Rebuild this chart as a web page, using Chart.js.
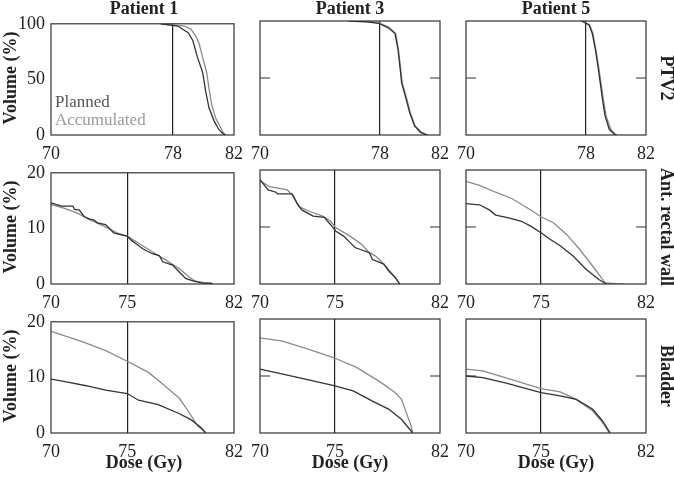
<!DOCTYPE html>
<html>
<head>
<meta charset="utf-8">
<script src="https://cdn.jsdelivr.net/npm/chart.js@4.4.1/dist/chart.umd.min.js"></script>
<style>
  body { margin: 0; background: #fff; }
  #page { position: relative; width: 674px; height: 481px; overflow: hidden; font-family: "Liberation Serif", "Times New Roman", serif; }
  canvas { position: absolute; }
  .lbl { position: absolute; font-weight: bold; font-size: 18px; line-height: 1; color: #222; white-space: nowrap; }
</style>
</head>
<body>
<div id="page"></div>
<script>
// ---- data (dose in Gy, volume in %) ----
const patients = ["Patient 1", "Patient 3", "Patient 5"];
const structures = ["PTV2", "Ant. rectal wall", "Bladder"];
const seriesNames = ["Planned", "Accumulated"];
const xTicks = [[70, 78, 82], [70, 75, 82], [70, 75, 82]];
const yTicks = [[0, 50, 100], [0, 10, 20], [0, 10, 20]];
const refDose = [78, 75, 75];

const ptvP1Planned = [[77.2,100],[78.3,98],[79.0,92],[79.3,85],[79.6,70],[79.95,56],[80.15,38.5],[80.37,24],[80.7,12.5],[81.0,5],[81.25,1.5],[81.4,0]];
const ptvP1Accum = [[77.2,100],[78.75,98],[79.18,95],[79.5,89],[79.72,82],[79.94,70],[80.21,56],[80.37,41],[80.54,27],[80.8,15],[81.12,6.7],[81.3,2],[81.45,0]];
const ptvP3Planned = [[75.9,100],[77.1,99.3],[77.9,98],[78.55,94],[79.0,89],[79.2,75],[79.33,60],[79.44,46],[79.75,31],[79.98,19.5],[80.3,8],[80.7,2.3],[81.15,0]];
const ptvP3Accum = [[76.2,100],[77.1,99.5],[77.95,98.3],[78.6,94.5],[79.05,89],[79.23,75],[79.36,60],[79.48,46],[79.8,31],[80.02,19.5],[80.35,8],[80.8,2],[81.2,0]];
const ptvP5Planned = [[77.7,100],[78.2,96.5],[78.42,89],[78.63,74.6],[78.8,60],[78.95,45.8],[79.1,31],[79.27,16.8],[79.55,5],[79.9,0.5],[80.0,0]];
const ptvP5Accum = [[77.75,100],[78.25,96.5],[78.46,89],[78.66,74.6],[78.84,60],[79.0,45.8],[79.16,31],[79.34,16.8],[79.65,5],[79.95,0.8],[80.1,0]];

const rectP1Planned = [[70,14.6],[70.7,14.0],[71.44,14.0],[71.54,13.4],[71.86,13.3],[72.19,12.1],[72.5,11.7],[72.83,11.5],[73.04,11.0],[73.58,10.7],[73.9,9.8],[74.11,9.2],[74.54,8.9],[75,8.6],[75.3,7.8],[75.6,7.2],[76.04,6.3],[76.68,5.4],[77.1,5.1],[77.33,4.0],[77.97,3.4],[78.4,2.2],[78.83,1.0],[79.36,0.5],[79.9,0.2],[80.54,0.1],[80.6,0]];
const rectP1Accum = [[70,14.3],[70.9,13.6],[71.76,12.7],[72.61,11.5],[73.47,10.4],[74.33,9.2],[75,8.6],[75.83,7.2],[76.69,5.7],[77.54,4.3],[78.4,2.8],[79.04,1.3],[79.47,0.5],[80.11,0.2],[80.54,0.1],[80.6,0]];
const rectP3Planned = [[70,18.3],[70.54,16.5],[71.07,16.1],[71.18,15.8],[72.14,15.8],[72.46,14.2],[72.79,13.0],[73.54,11.9],[74.29,11.7],[74.71,10.4],[75.04,9.3],[75.57,8.4],[76.11,7.0],[76.33,6.4],[77.29,5.5],[77.5,4.3],[78.25,3.5],[78.57,2.3],[79.0,1.2],[79.32,0]];
const rectP3Accum = [[70,18.1],[70.64,17.1],[71.82,16.5],[72.25,15.4],[72.57,13.6],[73.54,12.5],[74.18,11.9],[74.71,11.0],[75.04,9.9],[76,8.4],[76.75,7.0],[77.29,5.5],[77.71,4.9],[78.36,3.2],[79.0,1.2],[79.32,0]];
const rectP5Planned = [[70,14.1],[70.9,13.9],[71.55,13.0],[71.98,12.1],[72.84,11.6],[73.7,11.0],[74.34,10.1],[75,9.0],[75.63,7.8],[76.28,6.7],[77.14,4.9],[78.0,2.6],[78.86,0.8],[79.29,0.1],[79.4,0]];
const rectP5Accum = [[70,18.0],[70.9,17.3],[71.98,16.1],[73.05,15.0],[74.13,13.3],[75,11.8],[75.85,10.7],[76.71,8.7],[77.57,6.1],[78.43,3.2],[79.08,0.9],[79.29,0.2],[79.94,0.05],[80.5,0]];

const bladP1Planned = [[70,9.7],[71.01,9.2],[72.3,8.5],[73.59,7.7],[75,7.1],[75.74,5.9],[77.03,5.1],[78.32,3.6],[79.18,2.4],[79.83,1.0],[80.15,0]];
const bladP1Accum = [[70,18.3],[72.09,16.4],[73.59,14.8],[75,12.9],[76.39,10.9],[77.46,8.5],[78.43,6.2],[79.08,3.6],[79.61,1.3],[80.15,0]];
const bladP3Planned = [[70,11.2],[71.07,10.6],[72.57,9.7],[74.93,8.3],[76.21,7.4],[77.5,5.6],[78.57,4.2],[79.43,2.4],[80.18,0]];
const bladP3Accum = [[70,16.7],[71.5,16.1],[73.21,14.7],[74.93,13.2],[76.43,11.5],[77.93,9.1],[79.0,7.1],[79.43,5.9],[79.75,3.6],[80.07,1.3],[80.18,0]];
const bladP5Planned = [[70,10.0],[71.12,9.7],[72.62,8.8],[75,7.1],[76.28,6.5],[77.35,5.9],[78.43,4.2],[79.08,2.2],[79.61,0]];
const bladP5Accum = [[70,11.2],[71.12,10.9],[72.62,9.7],[75,7.8],[76.28,7.2],[77.35,5.9],[78.43,3.9],[79.08,1.9],[79.51,0.2],[79.61,0]];

// rows = structures, cols = patients
const panels = [
  [[ptvP1Planned, ptvP1Accum], [ptvP3Planned, ptvP3Accum], [ptvP5Planned, ptvP5Accum]],
  [[rectP1Planned, rectP1Accum], [rectP3Planned, rectP3Accum], [rectP5Planned, rectP5Accum]],
  [[bladP1Planned, bladP1Accum], [bladP3Planned, bladP3Accum], [bladP5Planned, bladP5Accum]],
];

// ---- layout ----
const colLeft = [51, 257, 463];
const rowTop = [21, 170, 319];
const boxW = 186, boxH = 114;
const padT = 14, padSide = 14, axisH = 32, yAxisW = 51;
const lineColors = ["#333", "#8a8a8a"];
const textColors = ["#555", "#999"];

Chart.defaults.font.family = "'Liberation Serif', 'Times New Roman', serif";

const page = document.getElementById("page");

function addLabel(text, x, y, rot) {
  const d = document.createElement("div");
  d.className = "lbl";
  d.textContent = text;
  d.style.left = x + "px";
  d.style.top = y + "px";
  d.style.transform = "translate(-50%,-50%)" + (rot ? " rotate(" + rot + "deg)" : "");
  page.appendChild(d);
}

// box outline + inner mid ticks (+ legend text in the first panel)
const framePlugin = {
  id: "frame",
  afterDraw(chart, args, opts) {
    const { ctx, chartArea: a } = chart;
    ctx.save();
    ctx.strokeStyle = "#333";
    ctx.lineWidth = 1.2;
    ctx.strokeRect(a.left, a.top, a.right - a.left, a.bottom - a.top);
    if (opts.midTick != null) {
      const y = chart.scales.y.getPixelForValue(opts.midTick);
      ctx.beginPath();
      ctx.moveTo(a.left, y); ctx.lineTo(a.left + 10, y);
      ctx.moveTo(a.right - 10, y); ctx.lineTo(a.right, y);
      ctx.stroke();
    }
    if (opts.legend) {
      ctx.font = "17px 'Liberation Serif'";
      ctx.textBaseline = "alphabetic";
      chart.data.datasets.forEach((ds, i) => {
        ctx.fillStyle = textColors[i];
        ctx.fillText(ds.label, a.left + 4, a.top + 83 + i * 18);
      });
    }
    ctx.restore();
  },
};

panels.forEach((row, r) => {
  row.forEach((curves, c) => {
    const canvas = document.createElement("canvas");
    const left = c === 0 ? 0 : colLeft[c] - padSide;
    const w = (c === 0 ? yAxisW : padSide) + boxW + padSide;
    const h = padT + boxH + axisH;
    canvas.width = w; canvas.height = h;
    canvas.style.left = left + "px";
    canvas.style.top = (rowTop[r] - padT) + "px";
    canvas.style.width = w + "px"; canvas.style.height = h + "px";
    page.appendChild(canvas);

    new Chart(canvas.getContext("2d"), {
      type: "line",
      data: {
        datasets: curves.map((pts, i) => ({
          label: seriesNames[i],
          data: pts.map(([x, y]) => ({ x, y })),
          borderColor: lineColors[i],
          borderWidth: 1.3,
          pointRadius: 0,
          fill: false,
          tension: 0,
        })),
      },
      options: {
        responsive: false,
        animation: false,
        events: [],
        layout: { padding: { top: padT, right: padSide, left: c === 0 ? 0 : padSide, bottom: 0 } },
        plugins: {
          legend: { display: false },
          tooltip: { enabled: false },
          frame: { midTick: c === 0 ? null : yTicks[r][1], legend: r === 0 && c === 0 },
        },
        scales: {
          x: {
            type: "linear",
            min: 70,
            max: 82,
            afterBuildTicks: (s) => { s.ticks = xTicks[r].map((v) => ({ value: v })); },
            afterFit: (s) => { s.height = axisH; },
            grid: {
              drawTicks: false,
              color: (ctx) => (ctx.tick && ctx.tick.value === refDose[r] ? "#222" : "rgba(0,0,0,0)"),
              lineWidth: 1.2,
            },
            border: { display: false },
            ticks: { padding: 8, color: "#222", maxRotation: 0, autoSkip: false, font: { size: 18 } },
          },
          y: {
            type: "linear",
            min: 0,
            max: yTicks[r][2],
            display: c === 0,
            afterBuildTicks: (s) => { s.ticks = yTicks[r].map((v) => ({ value: v })); },
            afterFit: (s) => { s.width = c === 0 ? yAxisW : 0; },
            grid: { display: false, drawTicks: false },
            border: { display: false },
            ticks: { padding: 6, color: "#222", font: { size: 18 } },
          },
        },
      },
      plugins: [framePlugin],
    });
  });
});

// titles, axis titles, row labels
patients.forEach((p, c) => {
  addLabel(p, colLeft[c] + boxW / 2, 8);
  addLabel("Dose (Gy)", colLeft[c] + boxW / 2, 462);
});
structures.forEach((s, r) => {
  const cy = rowTop[r] + boxH / 2;
  addLabel("Volume (%)", 10, cy, -90);
  addLabel(s, 667, cy, 90);
});
</script>
</body>
</html>
